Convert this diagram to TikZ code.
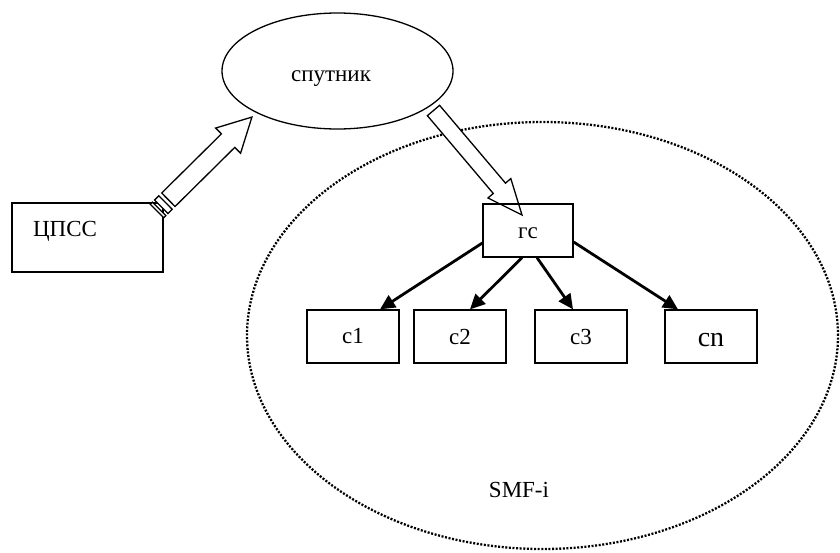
\documentclass[tikz,border=0pt]{standalone}
\usepackage{fontspec}
\setmainfont{Liberation Serif}
\usetikzlibrary{calc,arrows.meta,shapes.geometric}

\tikzset{
  box/.style={draw, line width=1.3pt, minimum width=92pt, minimum height=53pt, inner sep=0pt},
  lbl/.style={font=\fontsize{23}{23}\selectfont, inner sep=0pt},
  link/.style={line width=2.8pt, -{Triangle[length=15pt,width=14pt]}},
  hollow/.style={draw, line width=1.3pt, fill=white, line join=miter},
  zone/.style={draw, ellipse, line width=2.3pt, dash pattern=on 2pt off 1.6pt, inner sep=0pt},
}

% Block arrow from #1 to #2: half shaft width #3, half head width #4, head length #5
\newcommand\blockarrow[5]{%
  \draw[hollow] let \p1=(#1), \p2=(#2),
      \n1={atan2(\y2-\y1,\x2-\x1)}, \n2={veclen(\x2-\x1,\y2-\y1)} in
    [shift={(\p1)}, rotate=\n1]
    (0,#3) -- ({\n2-#5},#3) -- ({\n2-#5},#4) -- (\n2,0) -- ({\n2-#5},-#4)
    -- ({\n2-#5},-#3) -- (0,-#3) -- cycle;}

% Same arrow with two stripes at the tail
\newcommand\stripedarrow[5]{%
  \draw[hollow] let \p1=(#1), \p2=(#2),
      \n1={atan2(\y2-\y1,\x2-\x1)}, \n2={veclen(\x2-\x1,\y2-\y1)} in
    [shift={(\p1)}, rotate=\n1]
    (0,#3) -- (3,#3) -- (3,-#3) -- (0,-#3) -- cycle
    (6,#3) -- (12,#3) -- (12,-#3) -- (6,-#3) -- cycle
    (16,#3) -- ({\n2-#5},#3) -- ({\n2-#5},#4) -- (\n2,0) -- ({\n2-#5},-#4)
    -- ({\n2-#5},-#3) -- (16,-#3) -- cycle;}

\begin{document}
\begin{tikzpicture}[x=1pt, y=-1pt]
  \useasboundingbox (0,0) rectangle (840,552);

  % SMF-i coverage zone
  \node[zone, minimum width=591pt, minimum height=427pt] (smf) at (542.5,335.5) {};
  \node[lbl] (smflbl) at (519,490) {SMF-i};

  % satellite
  \node[draw, ellipse, line width=1.3pt, minimum width=231pt, minimum height=116pt, inner sep=0pt]
    (sat) at (337.5,71) {};
  \node[lbl] (satlbl) at (331,79) {спутник};

  % control centre
  \node[box, minimum width=151pt, minimum height=69pt] (cpss) at (87.5,237.5) {};
  \node[lbl] (cpsslbl) at (65,231) {ЦПСС};

  % downlink to the ground station
  \coordinate (a2t) at (433.5,110.5);
  \coordinate (a2h) at (522,215);
  \blockarrow{a2t}{a2h}{8}{15}{35}

  % ground station and its clients
  \node[box, minimum width=90pt] (gs) at (528,230.5) {};
  \node[lbl] (gslbl) at (528,233) {гс};

  \node[box] (c1) at (353,336.5) {};
  \node[box] (c2) at (460,336.5) {};
  \node[box] (c3) at (581,336.5) {};
  \node[box] (cn) at (711,336.5) {};
  \node[lbl] at (c1) {c1};
  \node[lbl] at (c2) {c2};
  \node[lbl] at (c3) {c3};
  \node[lbl, font=\fontsize{28}{28}\selectfont] at ([yshift=-4pt]cn.center) {cn};

  \draw[link] ([yshift=-12.5pt]gs.west) -- ([xshift=27pt]c1.north);
  \draw[link] ([xshift=-6pt]gs.south) -- ([xshift=10pt]c2.north);
  \draw[link] ([xshift=9pt]gs.south) -- ([xshift=-8pt]c3.north);
  \draw[link] ([yshift=-11.5pt]gs.east) -- ([xshift=-33pt]cn.north);

  % uplink from the control centre
  \coordinate (a1t) at (157,211);
  \coordinate (a1h) at (252,117);
  \stripedarrow{a1t}{a1h}{9.5}{17.7}{33.5}
\end{tikzpicture}
\end{document}
